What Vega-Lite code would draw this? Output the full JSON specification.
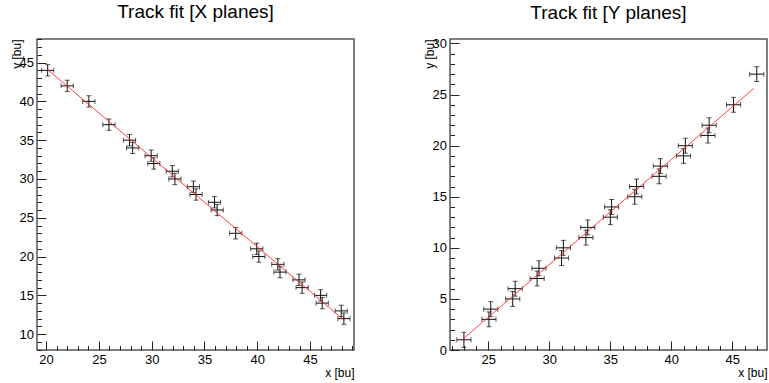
{
  "$schema": "https://vega.github.io/schema/vega-lite/v6.json",
  "autosize": {"type": "none"},
  "padding": {"left": 37, "top": 39, "right": 732, "bottom": 344},
  "background": "white",
  "bounds": "flush",
  "spacing": 96,
  "config": {
    "font": "Liberation Sans",
    "view": {"stroke": "#555", "strokeWidth": 1.5},
    "axis": {"grid": false, "domain": false, "tickColor": "#222", "tickWidth": 1, "labelColor": "#000", "labelFontSize": 13, "labelFont": "Liberation Sans", "titleFont": "Liberation Sans", "titleFontSize": 12, "titleFontWeight": "normal", "titleColor": "#000", "labelFlush": false, "labelOverlap": false},
    "title": {"fontSize": 19, "fontWeight": "normal", "font": "Liberation Sans", "color": "#000", "frame": "group", "anchor": "middle", "baseline": "alphabetic"}
  },
  "datasets": {
    "xpts": [
      {"x": 20.15, "y": 44, "ex": 0.58, "ey": 0.73},
      {"x": 22.0, "y": 42, "ex": 0.58, "ey": 0.73},
      {"x": 24.05, "y": 40, "ex": 0.58, "ey": 0.73},
      {"x": 25.95, "y": 37, "ex": 0.58, "ey": 0.73},
      {"x": 27.9, "y": 35, "ex": 0.58, "ey": 0.73},
      {"x": 28.2, "y": 34, "ex": 0.58, "ey": 0.73},
      {"x": 29.95, "y": 33, "ex": 0.58, "ey": 0.73},
      {"x": 30.2, "y": 32, "ex": 0.58, "ey": 0.73},
      {"x": 31.95, "y": 31, "ex": 0.58, "ey": 0.73},
      {"x": 32.2, "y": 30, "ex": 0.58, "ey": 0.73},
      {"x": 33.95, "y": 29, "ex": 0.58, "ey": 0.73},
      {"x": 34.2, "y": 28, "ex": 0.58, "ey": 0.73},
      {"x": 35.95, "y": 27, "ex": 0.58, "ey": 0.73},
      {"x": 36.2, "y": 26, "ex": 0.58, "ey": 0.73},
      {"x": 37.95, "y": 23, "ex": 0.58, "ey": 0.73},
      {"x": 39.95, "y": 21, "ex": 0.58, "ey": 0.73},
      {"x": 40.15, "y": 20, "ex": 0.58, "ey": 0.73},
      {"x": 41.95, "y": 19, "ex": 0.58, "ey": 0.73},
      {"x": 42.15, "y": 18, "ex": 0.58, "ey": 0.73},
      {"x": 43.95, "y": 17, "ex": 0.58, "ey": 0.73},
      {"x": 44.25, "y": 16, "ex": 0.58, "ey": 0.73},
      {"x": 46.0, "y": 15, "ex": 0.58, "ey": 0.73},
      {"x": 46.15, "y": 14, "ex": 0.58, "ey": 0.73},
      {"x": 47.95, "y": 13, "ex": 0.58, "ey": 0.73},
      {"x": 48.2, "y": 12, "ex": 0.58, "ey": 0.73}
    ],
    "xfit": [
      {"x": 20.1, "y": 44.15},
      {"x": 48.25, "y": 11.77}
    ],
    "ypts": [
      {"x": 23.0, "y": 1, "ex": 0.58, "ey": 0.73},
      {"x": 25.05, "y": 3, "ex": 0.58, "ey": 0.73},
      {"x": 25.2, "y": 4, "ex": 0.58, "ey": 0.73},
      {"x": 27.0, "y": 5, "ex": 0.58, "ey": 0.73},
      {"x": 27.2, "y": 6, "ex": 0.58, "ey": 0.73},
      {"x": 29.0, "y": 7, "ex": 0.58, "ey": 0.73},
      {"x": 29.15, "y": 8, "ex": 0.58, "ey": 0.73},
      {"x": 31.0, "y": 9, "ex": 0.58, "ey": 0.73},
      {"x": 31.15, "y": 10, "ex": 0.58, "ey": 0.73},
      {"x": 33.0, "y": 11, "ex": 0.58, "ey": 0.73},
      {"x": 33.15, "y": 12, "ex": 0.58, "ey": 0.73},
      {"x": 35.0, "y": 13, "ex": 0.58, "ey": 0.73},
      {"x": 35.1, "y": 14, "ex": 0.58, "ey": 0.73},
      {"x": 37.0, "y": 15, "ex": 0.58, "ey": 0.73},
      {"x": 37.15, "y": 16, "ex": 0.58, "ey": 0.73},
      {"x": 39.0, "y": 17, "ex": 0.58, "ey": 0.73},
      {"x": 39.1, "y": 18, "ex": 0.58, "ey": 0.73},
      {"x": 41.0, "y": 19, "ex": 0.58, "ey": 0.73},
      {"x": 41.15, "y": 20, "ex": 0.58, "ey": 0.73},
      {"x": 43.0, "y": 21, "ex": 0.58, "ey": 0.73},
      {"x": 43.1, "y": 22, "ex": 0.58, "ey": 0.73},
      {"x": 45.1, "y": 24, "ex": 0.58, "ey": 0.73},
      {"x": 47.0, "y": 27, "ex": 0.58, "ey": 0.73}
    ],
    "yfit": [
      {"x": 22.85, "y": 1.0},
      {"x": 46.75, "y": 25.6}
    ]
  },
  "hconcat": [
    {
      "width": 317,
      "height": 311,
      "title": {"text": "Track fit [X planes]", "offset": 11.5},
      "encoding": {
        "x": {
          "field": "x", "type": "quantitative", "title": "x [bu]",
          "scale": {"domain": [19.14, 49.16], "nice": false, "zero": false},
          "axis": {
            "values": [20,21,22,23,24,25,26,27,28,29,30,31,32,33,34,35,36,37,38,39,40,41,42,43,44,45,46,47,48,49],
            "labelExpr": "datum.value % 5 === 0 ? datum.label : ''",
            "tickSize": {"condition": {"test": "datum.value % 5 === 0", "value": -9}, "value": -4.5},
            "labelBaseline": "alphabetic", "labelPadding": 22,
            "titleAlign": "right", "titleBaseline": "alphabetic", "titleX": 317, "titleY": 26
          }
        },
        "y": {
          "field": "y", "type": "quantitative", "title": "y [bu]",
          "scale": {"domain": [7.96, 48.04], "nice": false, "zero": false},
          "axis": {
            "values": [8,9,10,11,12,13,14,15,16,17,18,19,20,21,22,23,24,25,26,27,28,29,30,31,32,33,34,35,36,37,38,39,40,41,42,43,44,45,46,47,48],
            "labelExpr": "datum.value % 5 === 0 ? datum.label : ''",
            "tickSize": {"condition": {"test": "datum.value % 5 === 0", "value": -9}, "value": -4.5},
            "labelBaseline": "middle", "labelPadding": 12.5,
            "titleAngle": 270, "titleAlign": "right", "titleBaseline": "alphabetic", "titleX": -17, "titleY": 0
          }
        }
      },
      "layer": [
        {
          "data": {"name": "xpts"},
          "mark": {"type": "errorbar", "ticks": true, "size": 5, "thickness": 1, "color": "#111"},
          "encoding": {"xError": {"field": "ex"}}
        },
        {
          "data": {"name": "xpts"},
          "mark": {"type": "errorbar", "ticks": true, "size": 5, "thickness": 1, "color": "#111"},
          "encoding": {"yError": {"field": "ey"}}
        },
        {
          "data": {"name": "xfit"},
          "mark": {"type": "line", "color": "#ff2020", "strokeWidth": 1, "opacity": 0.85},
          "encoding": {}
        }
      ]
    },
    {
      "width": 317,
      "height": 311,
      "title": {"text": "Track fit [Y planes]", "offset": 14.5},
      "encoding": {
        "x": {
          "field": "x", "type": "quantitative", "title": "x [bu]",
          "scale": {"domain": [21.86, 47.84], "nice": false, "zero": false},
          "axis": {
            "values": [22,23,24,25,26,27,28,29,30,31,32,33,34,35,36,37,38,39,40,41,42,43,44,45,46,47],
            "labelExpr": "datum.value % 5 === 0 ? datum.label : ''",
            "tickSize": {"condition": {"test": "datum.value % 5 === 0", "value": -9}, "value": -4.5},
            "labelBaseline": "alphabetic", "labelPadding": 22,
            "titleAlign": "right", "titleBaseline": "alphabetic", "titleX": 317, "titleY": 26
          }
        },
        "y": {
          "field": "y", "type": "quantitative", "title": "y [bu]",
          "scale": {"domain": [0, 30.44], "nice": false, "zero": false},
          "axis": {
            "values": [0,1,2,3,4,5,6,7,8,9,10,11,12,13,14,15,16,17,18,19,20,21,22,23,24,25,26,27,28,29,30],
            "labelExpr": "datum.value % 5 === 0 ? datum.label : ''",
            "tickSize": {"condition": {"test": "datum.value % 5 === 0", "value": -9}, "value": -4.5},
            "labelBaseline": "middle", "labelPadding": 12.5,
            "titleAngle": 270, "titleAlign": "right", "titleBaseline": "alphabetic", "titleX": -17, "titleY": 0
          }
        }
      },
      "layer": [
        {
          "data": {"name": "ypts"},
          "mark": {"type": "errorbar", "ticks": true, "size": 5, "thickness": 1, "color": "#111"},
          "encoding": {"xError": {"field": "ex"}}
        },
        {
          "data": {"name": "ypts"},
          "mark": {"type": "errorbar", "ticks": true, "size": 5, "thickness": 1, "color": "#111"},
          "encoding": {"yError": {"field": "ey"}}
        },
        {
          "data": {"name": "yfit"},
          "mark": {"type": "line", "color": "#ff2020", "strokeWidth": 1, "opacity": 0.85},
          "encoding": {}
        }
      ]
    }
  ]
}
